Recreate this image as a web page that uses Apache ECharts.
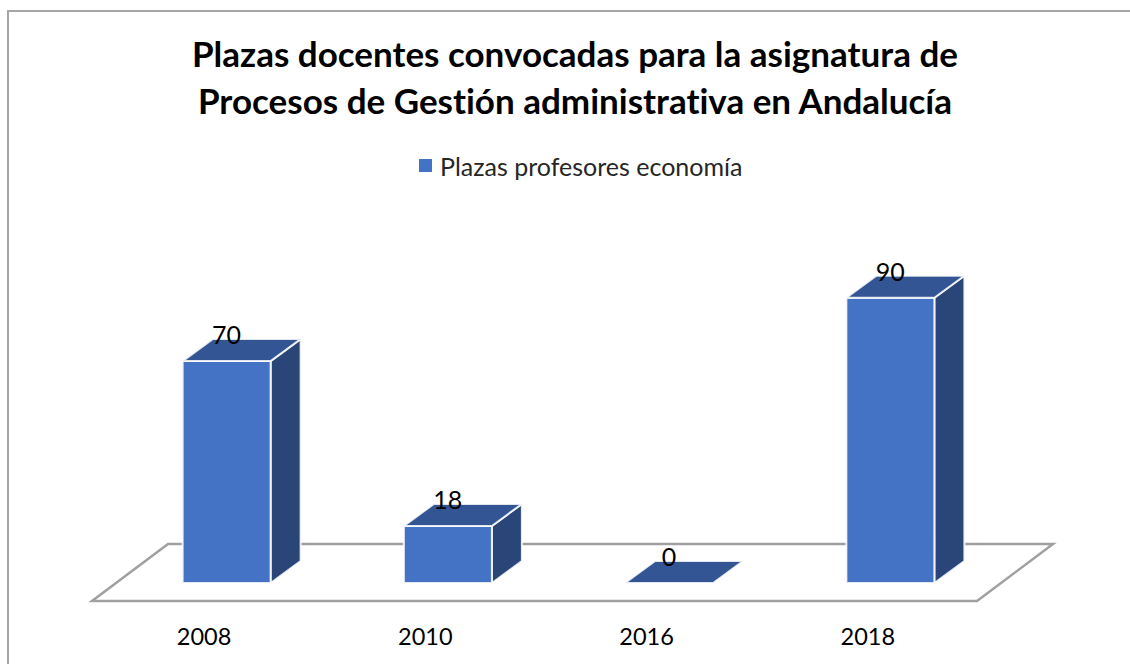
<!DOCTYPE html>
<html lang="es">
<head>
<meta charset="UTF-8">
<title>Plazas docentes</title>
<style>
  html, body { margin: 0; padding: 0; background: #fff; }
  #main { width: 1130px; height: 664px; font-variant-ligatures: none; }
  #main text { font-variant-ligatures: none; }
</style>
</head>
<body>
<div id="main"></div>
<script src="https://cdn.jsdelivr.net/npm/echarts@6/dist/echarts.min.js"></script>
<script>
var years = ['2008', '2010', '2016', '2018'];
var plazas = [70, 18, 0, 90];
var serieName = 'Plazas profesores economía';
var titulo = 'Plazas docentes convocadas para la asignatura de\nProcesos de Gestión administrativa en Andalucía';

var fontName = 'Lato';
var colorFront = '#4472C4', colorTop = '#335593', colorSide = '#2A4679';

// depth of the floor and of the boxes, in pixels
var floorDepth = [76, -57], floorFront = 18;
var boxDepth = [30, -22], boxWidth = 88;
var barShift = 24;

// svg renderer so the css above can switch off the "ti" ligature
var myChart = echarts.init(document.getElementById('main'), null, { renderer: 'svg' });

function drawFloor(params, api) {
  var rect = params.coordSys;
  var x0 = rect.x, x1 = rect.x + rect.width;
  var y = rect.y + rect.height + floorFront;
  return {
    type: 'polygon',
    shape: { points: [[x0, y], [x1, y], [x1 + floorDepth[0], y + floorDepth[1]], [x0 + floorDepth[0], y + floorDepth[1]]] },
    style: { fill: '#fff', stroke: '#a0a0a0', lineWidth: 2.5 }
  };
}

function drawBox(params, api) {
  var base = api.coord([api.value(0), 0]);
  var top = api.coord([api.value(0), api.value(1)]);
  var l = base[0] + barShift - boxWidth / 2, r = l + boxWidth;
  var b = base[1], t = top[1];
  var dx = boxDepth[0], dy = boxDepth[1];
  var edge = 'rgba(255,255,255,0.85)';
  var kids = [];
  if (b - t > 0) {
    kids.push({ type: 'polygon', shape: { points: [[r, t], [r + dx, t + dy], [r + dx, b + dy], [r, b]] }, style: { fill: colorSide, stroke: edge, lineWidth: 2 } });
    kids.push({ type: 'rect', shape: { x: l, y: t, width: boxWidth, height: b - t }, style: { fill: colorFront, stroke: edge, lineWidth: 2 } });
  }
  kids.push({ type: 'polygon', shape: { points: [[l, t], [r, t], [r + dx, t + dy], [l + dx, t + dy]] }, style: { fill: colorTop, stroke: edge, lineWidth: 2 } });
  kids.push({
    type: 'text',
    style: { x: (l + r) / 2, y: t - 27, text: String(api.value(1)), fill: '#000', font: '25px ' + fontName, textAlign: 'center', textVerticalAlign: 'middle' }
  });
  return { type: 'group', children: kids };
}

var option = {
  animation: false,
  backgroundColor: '#fff',
  title: {
    text: titulo,
    left: 570,
    textAlign: 'center',
    top: 24,
    textStyle: { fontFamily: fontName, fontWeight: 'bold', fontSize: 35, lineHeight: 47, color: '#000' }
  },
  legend: {
    top: 148,
    left: 414,
    icon: 'rect',
    itemWidth: 13,
    itemHeight: 13,
    data: [{ name: serieName, itemStyle: { color: colorFront } }],
    textStyle: { fontFamily: fontName, fontSize: 25, color: '#262626', padding: [0, 0, 0, 3] }
  },
  grid: { left: 92, width: 885, top: 266, bottom: 81, containLabel: false },
  xAxis: {
    type: 'category',
    data: years,
    axisLine: { show: false },
    axisTick: { show: false },
    axisLabel: { margin: 41, fontFamily: fontName, fontSize: 23.5, color: '#000', padding: [0, 0, 0, 3] }
  },
  yAxis: { type: 'value', min: 0, max: 100, show: false },
  series: [
    { type: 'custom', name: 'floor', silent: true, data: [[0, 0]], renderItem: drawFloor, z: 1 },
    {
      type: 'custom',
      name: serieName,
      data: years.map(function (y, i) { return [i, plazas[i]]; }),
      encode: { x: 0, y: 1 },
      renderItem: drawBox,
      itemStyle: { color: colorFront },
      z: 2
    }
  ],
  graphic: [{
    type: 'rect',
    silent: true,
    z: -1,
    shape: { x: 8, y: 11, width: 1140, height: 670 },
    style: { fill: 'none', stroke: '#a6a6a6', lineWidth: 2 }
  }]
};
myChart.setOption(option);
</script>
</body>
</html>
